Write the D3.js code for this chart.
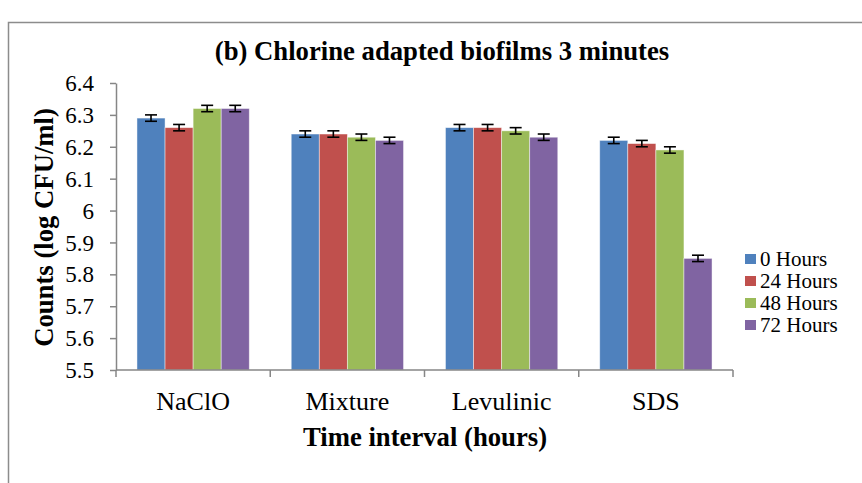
<!DOCTYPE html>
<html>
<head>
<meta charset="utf-8">
<script src="https://cdn.jsdelivr.net/npm/d3@7"></script>
<style>
  html, body { margin: 0; padding: 0; background: #fff; }
  svg text { font-family: "Liberation Serif", "Times New Roman", Times, serif; fill: #000; }
</style>
</head>
<body>
<svg id="chart" width="862" height="483"></svg>
<script>
// Treatments along the x axis
const categories = ["NaClO", "Mixture", "Levulinic", "SDS"];
// Sampling times (legend entries)
const seriesNames = ["0 Hours", "24 Hours", "48 Hours", "72 Hours"];
const seriesColors = ["#4F81BD", "#C0504D", "#9BBB59", "#8064A2"];
// Mean counts (log CFU/ml), one array per time point, in category order
const hours0  = [6.29, 6.24, 6.26, 6.22];
const hours24 = [6.26, 6.24, 6.26, 6.21];
const hours48 = [6.32, 6.23, 6.25, 6.19];
const hours72 = [6.32, 6.22, 6.23, 5.85];
// Standard error of each mean
const err0  = [0.01, 0.01, 0.01, 0.01];
const err24 = [0.01, 0.01, 0.01, 0.01];
const err48 = [0.01, 0.01, 0.01, 0.01];
const err72 = [0.01, 0.01, 0.01, 0.01];
const yTicks = [5.5, 5.6, 5.7, 5.8, 5.9, 6, 6.1, 6.2, 6.3, 6.4];

const seriesValues = [hours0, hours24, hours48, hours72];
const seriesErrors = [err0, err24, err48, err72];

const svg = d3.select("#chart");
const axisColor = "#868686";

// Outer chart frame
svg.append("path")
  .attr("d", "M8.5,483 L8.5,22.5 L862,22.5")
  .attr("fill", "none")
  .attr("stroke", "#8c8c8c")
  .attr("stroke-width", 1.5);

const plot = { left: 116, right: 733, top: 83, bottom: 370 };

const x0 = d3.scaleBand()
  .domain(categories)
  .range([plot.left, plot.right])
  .paddingInner(0.272)
  .paddingOuter(0.136);
const x1 = d3.scaleBand()
  .domain(seriesNames)
  .range([0, x0.bandwidth()]);
const y = d3.scaleLinear()
  .domain([5.5, 6.4])
  .range([plot.bottom, plot.top]);

// Bars
const rows = categories.map((c, ci) => ({
  cat: c,
  items: seriesNames.map((s, si) => ({ s, si, v: seriesValues[si][ci], e: seriesErrors[si][ci] }))
}));

const groups = svg.append("g").selectAll("g")
  .data(rows).join("g")
  .attr("transform", d => `translate(${x0(d.cat)},0)`);

groups.selectAll("rect")
  .data(d => d.items).join("rect")
  .attr("x", d => x1(d.s))
  .attr("y", d => y(d.v))
  .attr("width", x1.bandwidth())
  .attr("height", d => y(5.5) - y(d.v))
  .attr("fill", d => seriesColors[d.si])
  .attr("stroke", "rgba(255,255,255,0.55)")
  .attr("stroke-width", 0.8);

// Error bars
const capHalf = 6;
const eb = groups.selectAll("g.err")
  .data(d => d.items).join("g")
  .attr("class", "err")
  .attr("stroke", "#000")
  .attr("stroke-width", 1.6);
eb.append("line")
  .attr("x1", d => x1(d.s) + x1.bandwidth() / 2)
  .attr("x2", d => x1(d.s) + x1.bandwidth() / 2)
  .attr("y1", d => y(d.v + d.e))
  .attr("y2", d => y(d.v - d.e));
eb.append("line")
  .attr("x1", d => x1(d.s) + x1.bandwidth() / 2 - capHalf)
  .attr("x2", d => x1(d.s) + x1.bandwidth() / 2 + capHalf)
  .attr("y1", d => y(d.v + d.e))
  .attr("y2", d => y(d.v + d.e));
eb.append("line")
  .attr("x1", d => x1(d.s) + x1.bandwidth() / 2 - capHalf)
  .attr("x2", d => x1(d.s) + x1.bandwidth() / 2 + capHalf)
  .attr("y1", d => y(d.v - d.e))
  .attr("y2", d => y(d.v - d.e));

// Y axis
const yAxis = svg.append("g")
  .attr("transform", `translate(${plot.left},0)`)
  .call(d3.axisLeft(y).tickValues(yTicks).tickSize(6).tickSizeOuter(0)
    .tickFormat(d => d3.format("")(+d.toFixed(1))));
yAxis.attr("font-family", null).attr("font-size", null);
yAxis.select(".domain").attr("stroke", axisColor).attr("stroke-width", 1.5);
yAxis.selectAll(".tick line").attr("stroke", axisColor).attr("stroke-width", 1.5);
yAxis.selectAll(".tick text")
  .attr("x", -22)
  .attr("dy", "0.33em")
  .style("font-size", "23px");

// X axis with tick marks on category boundaries
const xAxisG = svg.append("g").attr("transform", `translate(0,${plot.bottom})`);
xAxisG.append("line")
  .attr("x1", plot.left).attr("x2", plot.right)
  .attr("stroke", axisColor).attr("stroke-width", 1.5);
const step = x0.step();
const boundaries = d3.range(categories.length + 1).map(i => plot.left + i * step);
xAxisG.selectAll("line.tk").data(boundaries).join("line")
  .attr("class", "tk")
  .attr("x1", d => d).attr("x2", d => d)
  .attr("y1", 0).attr("y2", 7)
  .attr("stroke", axisColor).attr("stroke-width", 1.5);
xAxisG.selectAll("text").data(categories).join("text")
  .attr("x", d => x0(d) + x0.bandwidth() / 2)
  .attr("y", 40)
  .attr("text-anchor", "middle")
  .style("font-size", "26px")
  .text(d => d);

// Titles
svg.append("text")
  .attr("x", 442).attr("y", 60)
  .attr("text-anchor", "middle")
  .style("font-size", "26.7px").style("font-weight", "bold")
  .text("(b) Chlorine adapted biofilms 3 minutes");

svg.append("text")
  .attr("x", 425).attr("y", 446)
  .attr("text-anchor", "middle")
  .style("font-size", "26.7px").style("font-weight", "bold")
  .text("Time interval (hours)");

svg.append("text")
  .attr("transform", "translate(53,227.5) rotate(-90)")
  .attr("text-anchor", "middle")
  .style("font-size", "26.7px").style("font-weight", "bold")
  .text("Counts (log CFU/ml)");

// Legend
const legend = svg.append("g").attr("transform", "translate(745,254)");
const li = legend.selectAll("g").data(seriesNames).join("g")
  .attr("transform", (d, i) => `translate(0,${i * 22})`);
li.append("rect")
  .attr("width", 11).attr("height", 10)
  .attr("fill", (d, i) => seriesColors[i]);
li.append("text")
  .attr("x", 15).attr("y", 12)
  .style("font-size", "21px")
  .text(d => d);
</script>
</body>
</html>
